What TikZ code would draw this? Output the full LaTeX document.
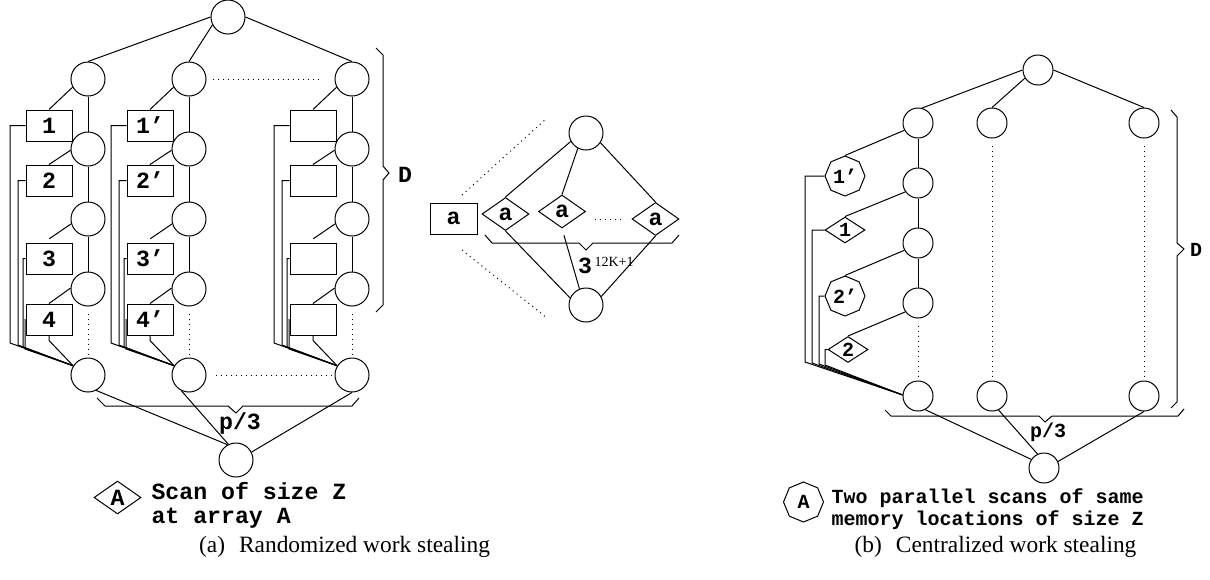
\documentclass[tikz,border=0pt]{standalone}
\usepackage{fontspec}
\setmainfont{Liberation Serif}
\setmonofont{Liberation Mono}
\usetikzlibrary{shapes.geometric}
\newcommand\bigtt{\fontsize{11.6}{12}\selectfont\ttfamily\bfseries}
\newcommand\smalltt{\fontsize{10}{11}\selectfont\ttfamily\bfseries}
\tikzset{
  ball/.style={circle,draw,inner sep=0pt,minimum size=17pt},
  smallball/.style={circle,draw,inner sep=0pt,minimum size=15pt},
  box/.style={rectangle,draw,inner sep=0pt,minimum width=23pt,minimum height=15.5pt,font=\bigtt},
  scan/.style={diamond,draw,inner sep=0pt,minimum width=23.5pt,minimum height=16.5pt,font=\bigtt},
  smallscan/.style={diamond,draw,inner sep=0pt,minimum width=20pt,minimum height=13pt,font=\smalltt},
  twoscan/.style={regular polygon,regular polygon sides=8,regular polygon rotate=22.5,draw,inner sep=0pt,minimum size=20pt,font=\smalltt},
  caption/.style={font=\fontsize{11.7}{13}\selectfont}
}
\begin{document}
\begin{tikzpicture}[x=0.5pt,y=-0.5pt,line width=0.5pt]
  \useasboundingbox (0,0) rectangle (1210,579);
  \node[ball] (ra) at (228,17) {};
  \foreach \i/\x/\p in {1/88/{},2/189/’,3/352/{}}{
    \foreach \j/\y in {1/79,2/149,3/219,4/289,5/375}
      \node[ball] (c\i\j) at (\x,\y) {};
    \foreach \j/\y in {1/125.5,2/180.5,3/258.5,4/319.5}
      \node[box] (b\i\j) at (\x-39,\y) {\ifnum\i<3 \j\p\fi};
    \draw (c\i1) -- (c\i2) -- (c\i3) -- (c\i4);
    \draw[dotted,shorten <=3.5pt,shorten >=0.5pt] (c\i4) -- (c\i5);
    \draw (c\i1.208) -- (b\i1.north);
    \draw (c\i2.184) -- (b\i2.north);
    \draw (c\i3.196) -- ++(-22,15);
    \draw (c\i4.177) -- (b\i4.north);
    \draw (b\i1.west) -| (\x-78,343) -- (c\i5.148);
    \draw (b\i2.west) -| (\x-70,345) -- (c\i5.148);
    \draw (b\i3.west) -| (\x-65,347) -- (c\i5.148);
    \draw (b\i4.west) -| (\x-63,349) -- (c\i5.148);
    \draw (b\i4.south) -- ++(0,5) -- (c\i5.148);
  }
  \draw (ra.west) -- (c11.north);
  \draw (ra.207) -- (c21.north);
  \draw (ra.east) -- (c31.north);
  \draw[dotted,shorten <=3pt,shorten >=7.5pt] (c21) -- (c31);
  \draw[dotted,shorten <=4.5pt,shorten >=1pt] (c25) -- (c35);
  \node[ball] (fa) at (236,460) {};
  \draw (c15.-62) -- (fa.119);
  \draw (c25.244) -- (fa.116);
  \draw (c35.south) -- (fa.27);
  \draw (97,398) -- (105,406) -- (228,406) -- (236,413) -- (243,406) -- (352,406) -- (359,398);
  \node[font=\bigtt] (pa) at (240,423) {p/3};
  \draw (376,48) -- (383,55) -- (383,166) -- (389,173) -- (383,180) -- (383,305) -- (376,312);
  \node[font=\bigtt] (da) at (405,175) {D};
  \node[scan] (la) at (117.5,497.5) {A};
  \node[font=\bigtt,anchor=west,align=left,inner sep=0pt] (ta) at (151,505) {Scan of size Z\\at array A};
  \node[caption] (capa) at (344.5,547) {(a)\hspace{0.6em}Randomized work stealing};

  \node[box,minimum width=23.5pt] (ma) at (453.5,218.5) {a};
  \node[scan] (s1) at (505.5,214) {a};
  \node[scan] (s2) at (562,211.5) {a};
  \node[scan] (s3) at (655.5,219) {a};
  \node[ball] (mt) at (586,133) {};
  \node[ball] (mb) at (586,305) {};
  \draw[dotted] (462,195) -- (547,118);
  \draw[dotted] (462,250) -- (547,318);
  \draw (mt.209) -- (s1.north);
  \draw (mt.242) -- (s2.north);
  \draw (mt.326) -- (s3.north);
  \draw (s1.south) -- (mb.156);
  \draw[shorten <=3.5pt] (s2.south) -- (mb.112);
  \draw (s3.south) -- (mb.29);
  \draw[dotted] (595,219) -- (622,219);
  \draw (485,235) -- (492,243) -- (579,243) -- (586,250) -- (593,243) -- (672,243) -- (679,235);
  \node[font=\bigtt,anchor=base] (k) at (585,273) {3};
  \node[font=\fontsize{7}{8}\selectfont,anchor=base west,inner sep=0pt] (kk) at (594,266) {12K+1};

  \node[smallball] (rb) at (1038,70) {};
  \foreach \i/\x in {1/918,2/992,3/1144}{
    \node[smallball] (e\i1) at (\x,123) {};
    \node[smallball] (e\i5) at (\x,396) {};
  }
  \foreach \j/\y in {2/183,3/243,4/303}
    \node[smallball] (e1\j) at (918,\y) {};
  \draw (rb.west) -- (e11.75);
  \draw (rb.212) -- (e21.north);
  \draw (rb.east) -- (e31.north);
  \draw (e11) -- (e12) -- (e13) -- (e14);
  \draw[dotted,shorten <=3.5pt,shorten >=1.5pt] (e14) -- (e15);
  \draw[dotted,shorten <=3.5pt,shorten >=1.5pt] (e21) -- (e25);
  \draw[dotted,shorten <=3.5pt,shorten >=1.5pt] (e31) -- (e35);
  \node[twoscan] (o1) at (845,176) {1’};
  \node[smallscan] (q1) at (845,230) {1};
  \node[twoscan] (o2) at (845,296) {2’};
  \node[smallscan] (q2) at (848,349.5) {2};
  \draw (e11.208) -- (o1.north);
  \draw (e12.215) -- (q1.north);
  \draw (e13.208) -- (o2.north);
  \draw (e14.215) -- (q2.north);
  \draw (o1.west) -| (805,362) -- (e15.176);
  \draw (q1.west) -| (812,363) -- (e15.176);
  \draw (o2.west) -| (819,364) -- (e15.176);
  \draw (q2.west) -| (825,365) -- (e15.176);
  \node[smallball] (fb) at (1044,468) {};
  \draw (e15.-62) -- (fb.146);
  \draw (e25.-65) -- (fb.115);
  \draw (e35.south) -- (fb.25);
  \draw (885,410) -- (891,416) -- (1039,416) -- (1045,422) -- (1052,416) -- (1178,416) -- (1184,409);
  \node[font=\smalltt] (pb) at (1048,432) {p/3};
  \draw (1171,110) -- (1177,117) -- (1177,243) -- (1184,249) -- (1177,256) -- (1177,402) -- (1171,408);
  \node[font=\smalltt] (db) at (1196,250) {D};
  \node[twoscan] (lb) at (803.5,502) {A};
  \node[font=\smalltt,anchor=west,align=left,inner sep=0pt] (tb) at (831,509) {Two parallel scans of same\\memory locations of size Z};
  \node[caption] (capb) at (995.5,547) {(b)\hspace{0.6em}Centralized work stealing};
\end{tikzpicture}
\end{document}
